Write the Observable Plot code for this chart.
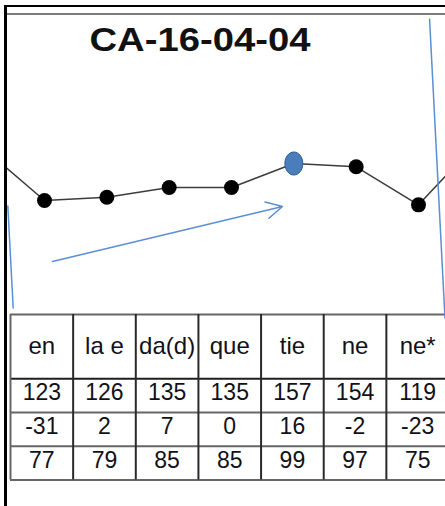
<!DOCTYPE html>
<html>
<head>
<meta charset="utf-8">
<script src="https://cdn.jsdelivr.net/npm/d3@7"></script>
<script src="https://cdn.jsdelivr.net/npm/@observablehq/plot@0.6"></script>
<style>
html, body { margin: 0; padding: 0; background: #fff; }
#wrap { position: relative; width: 445px; height: 506px; overflow: hidden; background: #fff; }
#wrap svg { position: absolute; left: 0; top: 0; }
.bline { position: absolute; }
</style>
</head>
<body>
<div id="wrap"></div>
<script>
// ---- data ----
const title = "CA-16-04-04";
const categories = ["en", "la e", "da(d)", "que", "tie", "ne", "ne*"];
const values = [123, 126, 135, 135, 157, 154, 119];
const changes = [-31, 2, 7, 0, 16, -2, -23];
const percents = [77, 79, 85, 85, 99, 97, 75];
const prevValue = 172;   // neighbour just off the left edge
const nextValue = 180;   // neighbour just off the right edge
const highlight = "tie";

// ---- derived tables ----
const pts = values.map((v, i) => ({i, v, cat: categories[i]}));
const lineData = [{i: -1, v: prevValue}, ...pts, {i: categories.length, v: nextValue}];
// hand-drawn annotation shapes, in data units (category index, value)
const blueLines = [
  {x1: -0.589, y1: 118.4, x2: -0.502, y2: 23.7},
  {x1: 6.177, y1: 290.4, x2: 6.425, y2: 14.5}
];
const trendArrow = [{x1: 0.128, y1: 66.9, x2: 3.818, y2: 117.5}];

const FONT = "'Liberation Sans', Arial, sans-serif";

const ellipse = {
  draw(ctx, size) {
    const r = Math.sqrt(size / Math.PI);
    const rx = r * 0.78, ry = r, k = 0.5523, kx = k * rx, ky = k * ry;
    ctx.moveTo(rx, 0);
    ctx.bezierCurveTo(rx, ky, kx, ry, 0, ry);
    ctx.bezierCurveTo(-kx, ry, -rx, ky, -rx, 0);
    ctx.bezierCurveTo(-rx, -ky, -kx, -ry, 0, -ry);
    ctx.bezierCurveTo(kx, -ry, rx, -ky, rx, 0);
    ctx.closePath();
  }
};

const table = Plot.plot({
  width: 445, height: 506,
  marginLeft: 0, marginRight: 0, marginTop: 0, marginBottom: 0,
  style: {background: "none", fontFamily: FONT, overflow: "visible"},
  x: {type: "linear", domain: [-0.5, 6.5], range: [10, 448.5], axis: null},
  y: {type: "linear", domain: [0, 4.9], range: [314, 479.5], axis: null},
  marks: [
    Plot.ruleY([0, 2.9, 3.9, 4.9], {x1: -0.5, x2: 6.5, stroke: "#666", strokeWidth: 2}),
    Plot.ruleY([1.9], {x1: -0.5, x2: 6.5, stroke: "#1e1e1e", strokeWidth: 2}),
    Plot.ruleX([-0.5], {y1: 0, y2: 4.9, stroke: "#666", strokeWidth: 2}),
    Plot.ruleX(d3.range(0.5, 7, 1), {y1: 0, y2: 4.9, stroke: "#2a2a2a", strokeWidth: 2}),
    Plot.text(categories, {x: (d, i) => i, y: 0.95, text: d => d, fontSize: 24, fill: "#111118", lineAnchor: "middle"}),
    ...[values, changes, percents].map((row, r) =>
      Plot.text(row, {x: (d, i) => i, y: 2.4 + r, text: d => String(d), dy: -2.5, fontSize: 23, fill: "#111118", lineAnchor: "middle"})
    )
  ]
});

const chart = Plot.plot({
  width: 445, height: 506,
  marginLeft: 6, marginRight: 0, marginTop: 15, marginBottom: 0,
  style: {background: "none", fontFamily: FONT, overflow: "visible"},
  x: {type: "linear", domain: [0, 6], range: [44, 418], axis: null},
  y: {type: "linear", domain: [100, 180], range: [225, 138], axis: null},
  marks: [
    Plot.line(lineData, {x: "i", y: "v", stroke: "#3c3c3c", strokeWidth: 1.5, clip: "frame"}),
    Plot.link(blueLines, {x1: "x1", y1: "y1", x2: "x2", y2: "y2", stroke: "#5b8fd4", strokeWidth: 1.5}),
    Plot.arrow(trendArrow, {x1: "x1", y1: "y1", x2: "x2", y2: "y2", stroke: "#5b8fd4", strokeWidth: 1.5, headLength: 18, headAngle: 55}),
    Plot.dot(pts.filter(d => d.cat !== highlight), {x: "i", y: "v", r: 7.5, fill: "#000", stroke: "none"}),
    Plot.dot(pts.filter(d => d.cat === highlight), {x: "i", y: "v", r: 11.5, symbol: ellipse, fill: "#4a7dbb", stroke: "#2f5a8f", strokeWidth: 1}),
    Plot.text([title], {frameAnchor: "top-left", textAnchor: "middle", lineAnchor: "middle", dx: 193.5, dy: 25, fontSize: 34, fontWeight: "bold", fill: "#111", text: d => d})
  ]
});

const wrap = document.getElementById("wrap");
wrap.appendChild(table);
wrap.appendChild(chart);
d3.select(chart).selectAll("text").filter(function() { return this.textContent === title; })
  .attr("textLength", 221).attr("lengthAdjust", "spacingAndGlyphs");

// frame borders
function bar(l, t, w, h, c) {
  const d = document.createElement("div");
  d.className = "bline";
  Object.assign(d.style, {left: l + "px", top: t + "px", width: w + "px", height: h + "px", background: c});
  wrap.appendChild(d);
}
bar(4, 5, 441, 2, "#000");
bar(7, 13, 438, 2, "#7a7a7a");
bar(4, 5, 2.5, 501, "#000");
</script>
</body>
</html>
